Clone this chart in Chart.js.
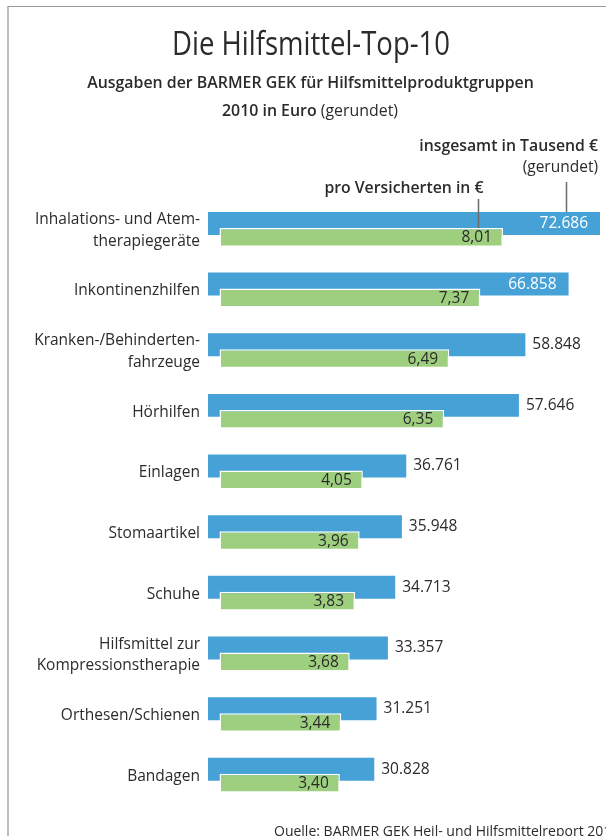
<!DOCTYPE html>
<html lang="de">
<head>
<meta charset="utf-8">
<title>Die Hilfsmittel-Top-10</title>
<script src="https://cdn.jsdelivr.net/npm/chart.js@4.4.1/dist/chart.umd.min.js"></script>
<style>
  html, body { margin: 0; padding: 0; background: #fff; overflow: hidden; }
  body { width: 606px; height: 836px; position: relative; font-family: "Open Sans", "Noto Sans", sans-serif; color: #2b2b2b; }
  #frame { position: absolute; left: 7px; top: 6px; width: 640px; height: 860px; border-top: 1px solid #9a9a9a; border-left: 2px solid #bdbdbd; }
  #wrap { position: absolute; left: 0; top: 0; width: 606px; height: 836px; }
  .t { position: absolute; white-space: nowrap; }
  #title { left: 311px; top: 20.6px; font-size: 32px; line-height: 44px; transform-origin: 0 0; }
  #sub1 { left: 0; width: 621px; top: 71.3px; text-align: center; font-size: 15.9px; line-height: 22px; font-weight: 600; }
  #sub2 { left: 0; width: 620px; top: 98.8px; text-align: center; font-size: 15.9px; line-height: 22px; }
  #sub2 b { font-weight: 600; }
  #source { left: 274px; top: 821px; font-size: 14px; line-height: 19px; }
</style>
</head>
<body>
<div id="frame"></div>
<div id="wrap"><canvas id="topChart"></canvas></div>
<div class="t" id="title">Die Hilfsmittel-Top-10</div>
<div class="t" id="sub1">Ausgaben der BARMER GEK für Hilfsmittelproduktgruppen</div>
<div class="t" id="sub2"><b>2010 in Euro</b> (gerundet)</div>
<div class="t" id="source">Quelle: BARMER GEK Heil- und Hilfsmittelreport 2011</div>
<script>
// Hilfsmittel-Top-10, BARMER GEK 2010
const categories = [
  ['Inhalations- und Atem-', 'therapiegeräte'],
  'Inkontinenzhilfen',
  ['Kranken-/Behinderten-', 'fahrzeuge'],
  'Hörhilfen',
  'Einlagen',
  'Stomaartikel',
  'Schuhe',
  ['Hilfsmittel zur', 'Kompressionstherapie'],
  'Orthesen/Schienen',
  'Bandagen'
];
// insgesamt in Tausend Euro (gerundet)
const totalsK = [72686, 66858, 58848, 57646, 36761, 35948, 34713, 33357, 31251, 30828];
// pro Versicherten in Euro
const perInsured = [8.01, 7.37, 6.49, 6.35, 4.05, 3.96, 3.83, 3.68, 3.44, 3.40];

// axis ranges (the green bars sit slightly indented under the blue ones)
const totalsRange = [0, 72686];
const perInsuredRange = [-0.325, 10.751];

const c = {
  blue: '#45a1d6',
  green: '#9dcf7e',
  ink: '#2b2b2b',
  lead: '#6d6d6d'
};
const font = '"Open Sans", "Noto Sans", sans-serif';

// squeeze the title to the condensed width of the original
const title = document.getElementById('title');
const tw = title.getBoundingClientRect().width;
title.style.transform = 'scaleX(' + (278 / tw) + ') translateX(-50%)';

const fmtTotal = v => String(Math.round(v)).replace(/\B(?=(\d{3})+(?!\d))/g, '.');
const fmtEuro = v => v.toFixed(2).replace('.', ',');

// the lower (green) bars have to lie on top of the blue ones
const greenOnTop = {
  id: 'greenOnTop',
  beforeDatasetDraw(chart, args) {
    if (args.index === 1 && !chart.$greenNow) return false;
  },
  afterDatasetsDraw(chart) {
    chart.$greenNow = true;
    chart._drawDataset(chart.getDatasetMeta(1));
    chart.$greenNow = false;
  }
};

// value labels + the two key notes with leader lines
const labels = {
  id: 'labels',
  afterDatasetsDraw(chart) {
    const ctx = chart.ctx;
    const area = chart.chartArea;
    const blueBars = chart.getDatasetMeta(0).data;
    const greenBars = chart.getDatasetMeta(1).data;
    ctx.save();
    ctx.font = '15.5px ' + font;
    ctx.textBaseline = 'middle';

    blueBars.forEach((bar, i) => {
      const txt = fmtTotal(totalsK[i]);
      const w = ctx.measureText(txt).width;
      if (bar.x + 7 + w > area.right - 4) {
        ctx.fillStyle = '#fff';
        ctx.textAlign = 'right';
        ctx.fillText(txt, bar.x - 12, bar.y);
      } else {
        ctx.fillStyle = c.ink;
        ctx.textAlign = 'left';
        ctx.fillText(txt, bar.x + 7, bar.y);
      }
    });

    ctx.fillStyle = c.ink;
    ctx.textAlign = 'right';
    greenBars.forEach((bar, i) => {
      ctx.fillText(fmtEuro(perInsured[i]), bar.x - 11, bar.y + 0.5);
    });

    // leader lines
    const b0 = blueBars[0], g0 = greenBars[0];
    const x1 = Math.round(b0.x - 34) + 0.5;
    const x2 = Math.round(g0.x - 25) + 0.5;
    ctx.strokeStyle = c.lead;
    ctx.lineWidth = 1.5;
    ctx.beginPath();
    ctx.moveTo(x1, 182);
    ctx.lineTo(x1, b0.y - b0.height / 2);
    ctx.moveTo(x2, 199);
    ctx.lineTo(x2, g0.y - g0.height / 2);
    ctx.stroke();

    ctx.textBaseline = 'alphabetic';
    ctx.fillStyle = c.ink;
    ctx.font = '600 15.8px ' + font;
    ctx.fillText('insgesamt in Tausend €', area.right - 2, 151);
    ctx.fillText('pro Versicherten in €', x2 + 5, 193);
    ctx.font = '15.5px ' + font;
    ctx.fillText('(gerundet)', area.right - 2, 172);
    ctx.restore();
  }
};

new Chart(document.getElementById('topChart'), {
  type: 'bar',
  data: {
    labels: categories,
    datasets: [{
      label: 'insgesamt in Tausend €',
      data: totalsK,
      xAxisID: 'x',
      backgroundColor: c.blue,
      borderWidth: 0,
      categoryPercentage: 0.4607,
      barPercentage: 1.643
    }, {
      label: 'pro Versicherten in €',
      data: perInsured,
      xAxisID: 'x2',
      backgroundColor: c.green,
      borderColor: '#fff',
      borderWidth: 1.5,
      borderSkipped: false,
      categoryPercentage: 0.4607,
      barPercentage: 1.357
    }]
  },
  options: {
    indexAxis: 'y',
    responsive: true,
    maintainAspectRatio: false,
    animation: false,
    layout: { padding: { left: 0, right: 6, top: 200.1, bottom: 28.1 } },
    plugins: {
      legend: { display: false },
      tooltip: { enabled: false }
    },
    scales: {
      x: { type: 'linear', min: totalsRange[0], max: totalsRange[1], display: false },
      x2: { type: 'linear', min: perInsuredRange[0], max: perInsuredRange[1], display: false },
      y: {
        grid: { display: false, drawTicks: false },
        border: { display: false },
        ticks: {
          autoSkip: false,
          padding: 8,
          color: c.ink,
          font: { family: font, size: 15.5, lineHeight: 1.38 }
        },
        afterFit(scale) { scale.width = 208; }
      }
    }
  },
  plugins: [greenOnTop, labels]
});
</script>
</body>
</html>
